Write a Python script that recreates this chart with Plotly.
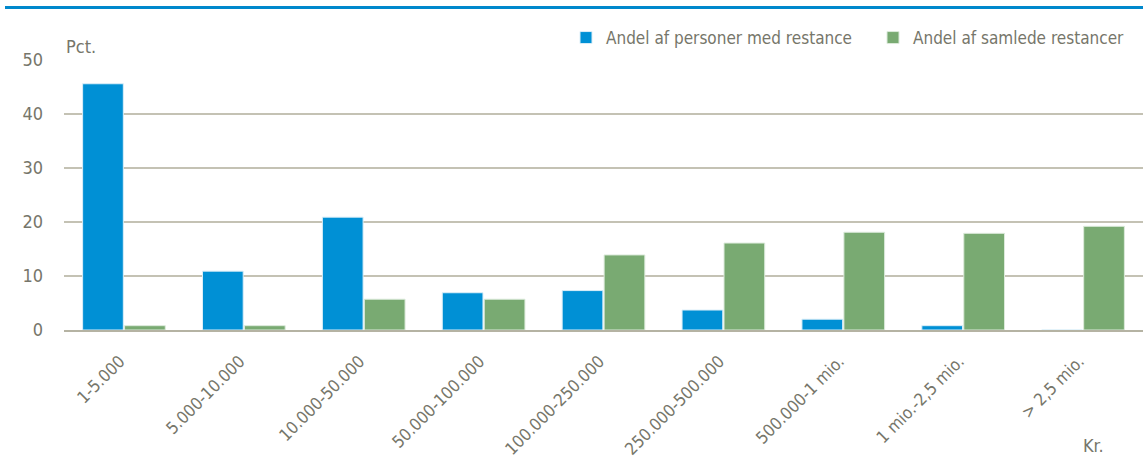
import plotly.graph_objects as go

categories = ["1-5.000", "5.000-10.000", "10.000-50.000", "50.000-100.000", "100.000-250.000",
              "250.000-500.000", "500.000-1 mio.", "1 mio.-2,5 mio.", "> 2,5 mio."]
personer = [45.6, 10.9, 20.9, 6.9, 7.3, 3.7, 2.0, 0.8, 0.0]
restancer = [0.8, 0.8, 5.7, 5.7, 13.9, 16.1, 18.1, 17.9, 19.2]
series_names = ["Andel af personer med restance", "Andel af samlede restancer"]
y_ticks = [0, 10, 20, 30, 40, 50]

FONT = "DejaVu Sans Condensed"
TXT = "#76766a"
FS = 18
W, H = 1143, 463
L, R, T, B = 64, 0, 60, 133
PH = H - T - B
PW = W - L - R

fig = go.Figure()
fig.add_trace(go.Bar(x=categories, y=personer, name=series_names[0],
                     marker=dict(color="#0090d5", line=dict(color="#dbeef8", width=1))))
fig.add_trace(go.Bar(x=categories, y=restancer, name=series_names[1],
                     marker=dict(color="#79aa72", line=dict(color="#dceadb", width=1))))

fig.update_layout(
    width=W, height=H,
    margin=dict(l=L, r=R, t=T, b=B, autoexpand=False),
    plot_bgcolor="white", paper_bgcolor="white",
    barmode="group", bargap=0.3, bargroupgap=0.03,
    font=dict(family=FONT, size=FS, color=TXT),
    showlegend=True,
    legend=dict(orientation="h", x=(566 - L) / PW, xanchor="left", y=1 + (T - 38) / PH,
                yanchor="middle", font=dict(size=17, color=TXT), itemwidth=30,
                entrywidth=262, traceorder="normal", bgcolor="rgba(0,0,0,0)"),
    xaxis=dict(tickangle=-45, showgrid=False, showline=True, linecolor="#b5b3a3", linewidth=1.5,
               ticks="", automargin=False, ticklabelstandoff=13, ticklabelshift=-4,
               tickfont=dict(size=17, color=TXT)),
    yaxis=dict(range=[0, 50], tickvals=y_ticks, showgrid=True, gridcolor="#c4c2b4", gridwidth=1.5,
               zeroline=False, showline=False, ticks="", ticklabelstandoff=20, automargin=False,
               tickfont=dict(size=FS, color=TXT)),
    shapes=[dict(type="line", xref="paper", yref="paper", x0=(5 - L) / PW,
                 x1=1.02, y0=1 + (T - 7.5) / PH, y1=1 + (T - 7.5) / PH,
                 line=dict(color="#0088cc", width=3))],
    annotations=[
        dict(text="Pct.", xref="paper", yref="paper", x=0, y=1 + 14 / PH,
             xanchor="left", yanchor="middle", showarrow=False, font=dict(size=FS, color=TXT)),
        dict(text="Kr.", xref="paper", yref="paper", x=(1093 - L) / PW, y=-(445 - (H - B)) / PH,
             xanchor="center", yanchor="middle", showarrow=False, font=dict(size=FS, color=TXT)),
    ],
)

fig.write_html("out.html", config={"displayModeBar": False},
               post_script="document.body.style.margin='0';")
